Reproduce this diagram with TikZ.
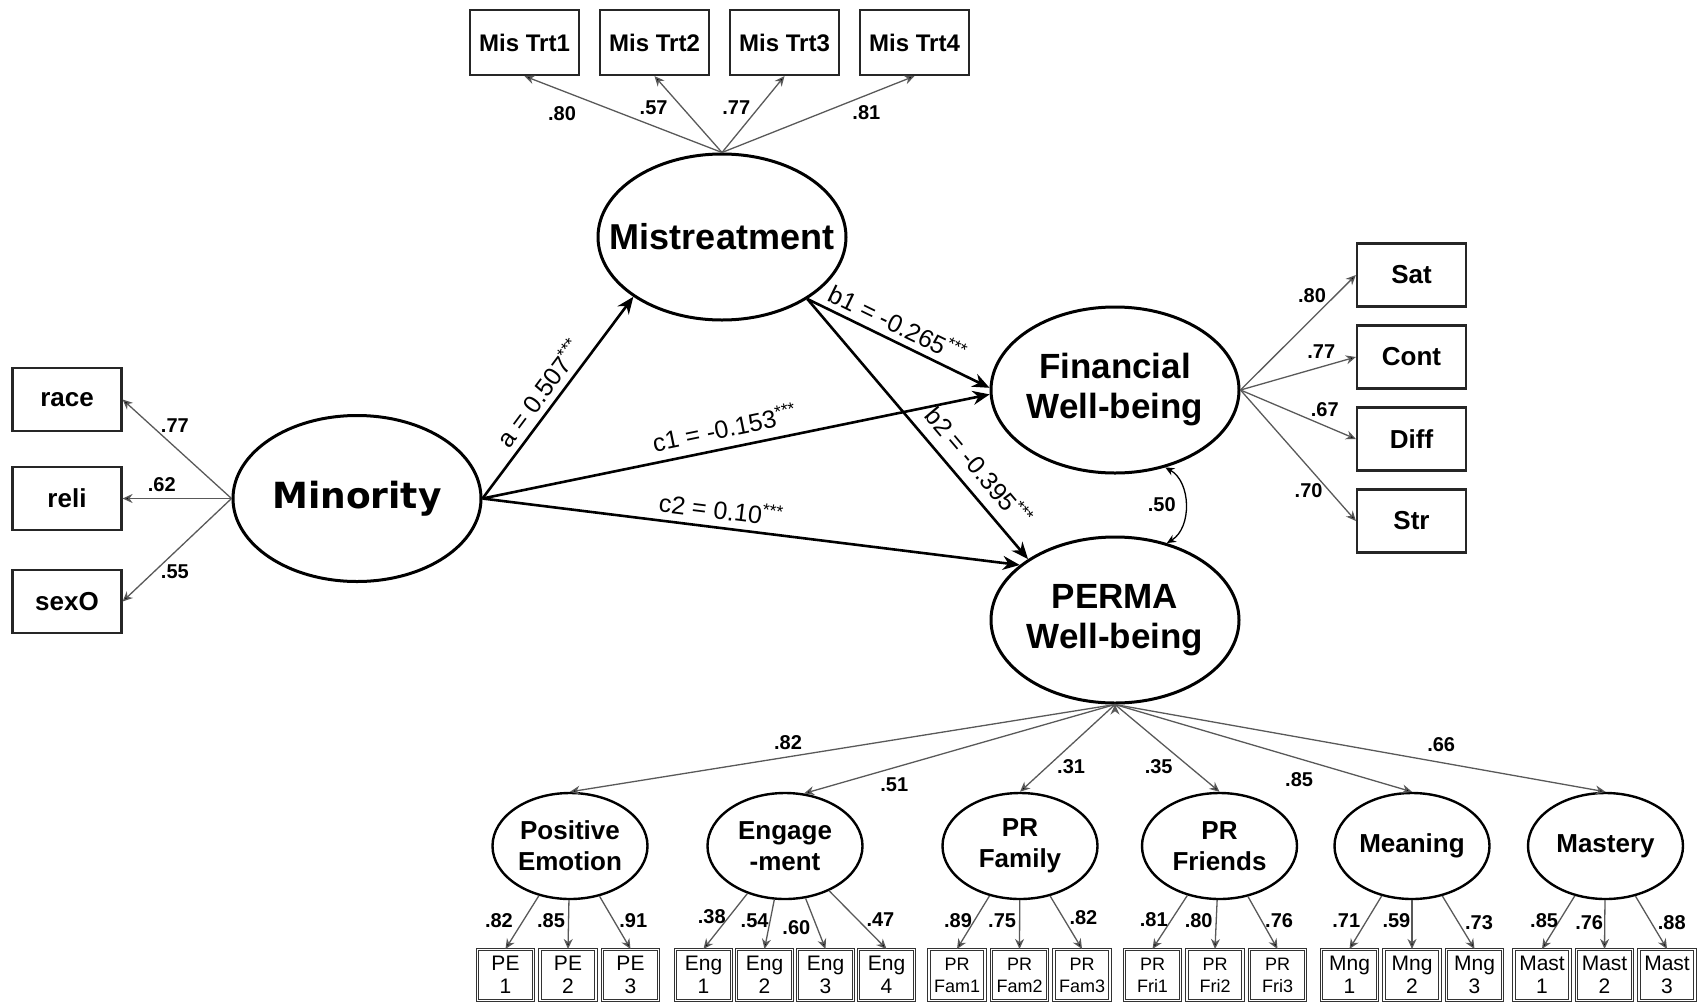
\documentclass[tikz,border=0pt]{standalone}
\usepackage{fontspec}
\setmainfont{Liberation Sans}
\newfontfamily\minfont{DejaVu Sans}
\usepackage{tikz}
\usetikzlibrary{arrows.meta,shapes.geometric,positioning}

\begin{document}
\begin{tikzpicture}[x=1pt, y=-1pt, >={Stealth[length=17pt,width=14pt]}, node distance=62.5pt,
  latent/.style={ellipse, draw, line width=3pt, inner ysep=0pt, align=center},
  biglat/.style={latent, inner xsep=-30pt, minimum width=248pt, minimum height=166pt, font=\fontsize{35}{40}\selectfont\bfseries},
  sublat/.style={latent, line width=2.4pt, inner xsep=0pt, minimum width=155pt, minimum height=106pt, font=\fontsize{26}{31}\selectfont\bfseries},
  ind/.style={rectangle, draw=black!85, line width=2.2pt, minimum width=109pt, minimum height=63pt, inner sep=0pt, font=\fontsize{26}{30}\selectfont\bfseries},
  mtbox/.style={ind, minimum height=65pt, font=\fontsize{24}{28}\selectfont\bfseries},
  item/.style={rectangle, draw=black!80, double, double distance=1.5pt, line width=1.1pt, minimum width=56pt, minimum height=51pt, inner sep=0pt, align=center, font=\fontsize{21}{23}\selectfont},
  itemsm/.style={item, font=\fontsize{18}{22}\selectfont},
  effect/.style={->, line width=2.6pt},
  load/.style={-{Stealth[length=10pt,width=9pt]}, draw=black!65, line width=1.3pt},
  corr/.style={{Stealth[length=9pt,width=8pt]}-{Stealth[length=9pt,width=8pt]}, line width=1.3pt},
  coef/.style={font=\fontsize{25}{28}\selectfont, sloped, inner sep=1pt},
  wt/.style={font=\fontsize{20}{22}\selectfont\bfseries, inner sep=1pt}]

\useasboundingbox (0,0) rectangle (1701,1002);

\node[biglat, font=\fontsize{36}{40}\selectfont\minfont\bfseries] (mino) at (357,498.5) {Minority};
\node[biglat, font=\fontsize{36}{40}\selectfont\bfseries] (mis) at (722,237) {Mistreatment};
\node[biglat] (fin) at (1115,390) {Financial\\Well-being};
\node[biglat] (perma) at (1115,620) {PERMA\\Well-being};

\node[mtbox] (mt1) at (524.5,42.5) {Mis Trt1};
\node[mtbox] (mt2) [right of=mt1, node distance=130pt] {Mis Trt2};
\node[mtbox] (mt3) [right of=mt2, node distance=130pt] {Mis Trt3};
\node[mtbox] (mt4) [right of=mt3, node distance=130pt] {Mis Trt4};

\node[ind] (reli) at (67,498.5) {reli};
\node[ind] (race) [above of=reli, node distance=99pt] {race};
\node[ind] (sexo) [below of=reli, node distance=103pt] {sexO};

\node[ind] (sat) at (1411.5,275) {Sat};
\node[ind] (cont) [below of=sat, node distance=82pt] {Cont};
\node[ind] (diff) [below of=cont, node distance=82pt] {Diff};
\node[ind] (str) [below of=diff, node distance=82pt] {Str};

\node[sublat] (pe) at (570,846) {Positive\\Emotion};
\node[sublat] (eng) at (785,846) {Engage\\-ment};
\node[sublat] (fam) at (1020,846) {PR\\Family};
\node[sublat] (fri) at (1219.5,846) {PR\\Friends};
\node[sublat] (mng) at (1412,846) {Meaning};
\node[sublat] (mast) at (1605.5,846) {Mastery};

\node[item] (pe1) at (505.5,975) {PE\\1};
\node[item] (pe2) [right of=pe1] {PE\\2};
\node[item] (pe3) [right of=pe2] {PE\\3};
\node[item] (eng1) at (703.5,975) {Eng\\1};
\node[item] (eng2) [right of=eng1, node distance=61pt] {Eng\\2};
\node[item] (eng3) [right of=eng2, node distance=61pt] {Eng\\3};
\node[item] (eng4) [right of=eng3, node distance=61pt] {Eng\\4};
\node[itemsm] (fam1) at (957,975) {PR\\Fam1};
\node[itemsm] (fam2) [right of=fam1] {PR\\Fam2};
\node[itemsm] (fam3) [right of=fam2] {PR\\Fam3};
\node[itemsm] (fri1) at (1152.5,975) {PR\\Fri1};
\node[itemsm] (fri2) [right of=fri1] {PR\\Fri2};
\node[itemsm] (fri3) [right of=fri2] {PR\\Fri3};
\node[item] (mng1) at (1349.5,975) {Mng\\1};
\node[item] (mng2) [right of=mng1] {Mng\\2};
\node[item] (mng3) [right of=mng2] {Mng\\3};
\node[item] (mast1) at (1542,975) {Mast\\1};
\node[item] (mast2) [right of=mast1] {Mast\\2};
\node[item] (mast3) [right of=mast2] {Mast\\3};

\path[effect]
(mino.east) edge node[coef, pos=0.47, above=5pt] {a = 0.507\textsuperscript{***}} (mis.214)
(mis.-36) edge node[coef, pos=0.455, above=5pt] {b1 = -0.265\textsuperscript{***}} (fin.179)
(mis.-36) edge node[coef, pos=0.70, above=10pt] {b2 = -0.395\textsuperscript{***}} (perma.145)
(mino.east) edge node[coef, pos=0.485, above=8pt] {c1 = -0.153\textsuperscript{***}} (fin.182)
(mino.east) edge node[coef, pos=0.44, above=6pt] {c2 = 0.10\textsuperscript{***}} (perma.150);

\path[load]
(mis.north) edge node[wt, pos=0.81, below=14pt] {.80} (mt1.south)
(mis.north) edge node[wt, pos=0.59, left=13pt] {.57} (mt2.south)
(mis.north) edge node[wt, pos=0.59, left=7pt] {.77} (mt3.south)
(mis.north) edge node[wt, pos=0.75, below=9pt] {.81} (mt4.south)

(mino.west) edge node[wt, pos=0.52, above=13pt] {.77} (race.east)
(mino.west) edge node[wt, pos=0.64, above=5pt] {.62} (reli.east)
(mino.west) edge node[wt, pos=0.52, below=11pt] {.55} (sexo.east)

(fin.east) edge node[wt, pos=0.62, above=14pt] {.80} (sat.west)
(fin.east) edge node[wt, pos=0.70, above=7pt] {.77} (cont.west)
(fin.east) edge node[wt, pos=0.73, above=7pt] {.67} (diff.west)
(fin.east) edge node[wt, pos=0.59, below=15pt] {.70} (str.west)

(perma.south) edge node[wt, pos=0.6, above=6pt] {.82} (pe.north)
(perma.south) edge node[wt, pos=0.71, below=8pt] {.51} (eng.70)
(perma.south) edge node[wt, pos=0.71, right=8pt] {.31} (fam.north)
(perma.south) edge node[wt, pos=0.71, left=15pt] {.35} (fri.north)
(perma.south) edge node[wt, pos=0.62, below=12pt] {.85} (mng.north)
(perma.south) edge node[wt, pos=0.665, above=9pt] {.66} (mast.north)

(pe) edge node[wt, pos=0.46, left=9pt] {.82} (pe1.north)
(pe) edge node[wt, pos=0.42, left=2pt] {.85} (pe2.north)
(pe) edge node[wt, pos=0.46, right=4pt] {.91} (pe3.north)
(eng) edge node[wt, pos=0.41, left=2pt] {.38} (eng1.north)
(eng) edge node[wt, pos=0.42, left=0pt] {.54} (eng2.north)
(eng) edge node[wt, pos=0.57, left=5pt] {.60} (eng3.north)
(eng) edge node[wt, pos=0.50, right=7pt] {.47} (eng4.north)
(fam) edge node[wt, pos=0.46, left=1pt] {.89} (fam1.north)
(fam) edge node[wt, pos=0.42, left=2pt] {.75} (fam2.north)
(fam) edge node[wt, pos=0.40, right=5pt] {.82} (fam3.north)
(fri) edge node[wt, pos=0.46, left=2pt] {.81} (fri1.north)
(fri) edge node[wt, pos=0.42, left=2pt] {.80} (fri2.north)
(fri) edge node[wt, pos=0.46, right=2pt] {.76} (fri3.north)
(mng) edge node[wt, pos=0.46, left=5pt] {.71} (mng1.north)
(mng) edge node[wt, pos=0.42, left=0pt] {.59} (mng2.north)
(mng) edge node[wt, pos=0.50, right=5pt] {.73} (mng3.north)
(mast) edge node[wt, pos=0.46, left=0pt] {.85} (mast1.north)
(mast) edge node[wt, pos=0.46, left=0pt] {.76} (mast2.north)
(mast) edge node[wt, pos=0.50, right=5pt] {.88} (mast3.north);

\path[corr] (fin.-57) edge[bend left=60] node[wt, left=8pt] {.50} (perma.56);
\end{tikzpicture}
\end{document}
